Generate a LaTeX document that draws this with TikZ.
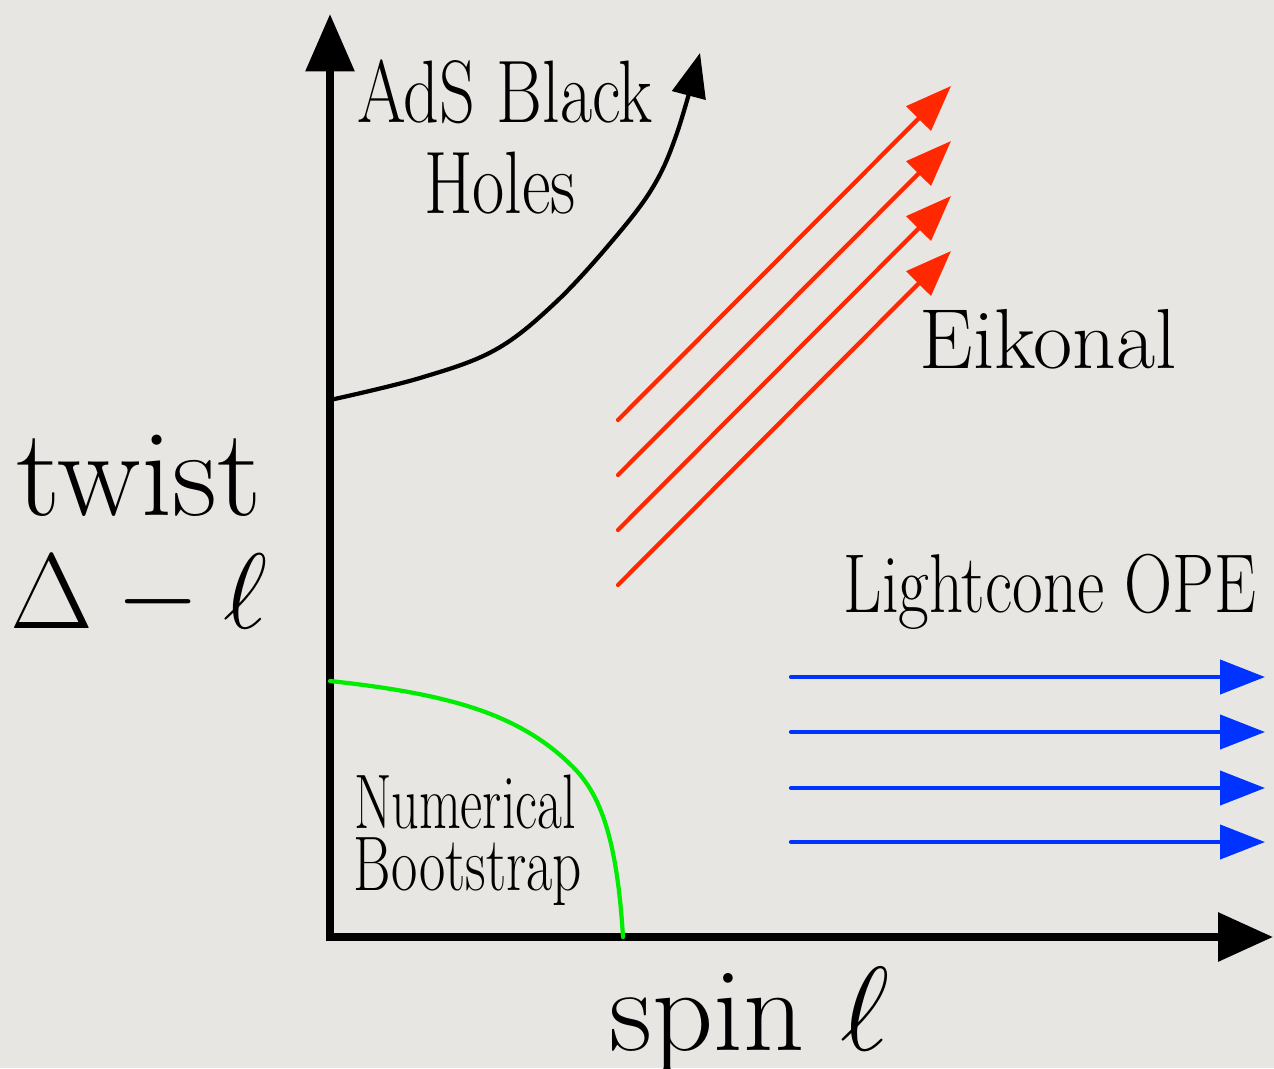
\documentclass[tikz,border=0pt]{standalone}
\usepackage{fix-cm}
\usepackage{fontspec}
\usetikzlibrary{arrows.meta}
\definecolor{bg}{RGB}{231,230,226}
\definecolor{myred}{RGB}{255,40,0}
\definecolor{myblue}{RGB}{0,51,255}
\definecolor{mygreen}{RGB}{0,236,0}
\tikzset{
  axisline/.style={line width=4.5pt, line join=miter, {Triangle[length=1.15cm,width=0.95cm]}-{Triangle[length=1.1cm,width=0.95cm]}},
  curveline/.style={line width=2.4pt, -{Triangle[length=0.88cm,width=0.68cm]}},
  redarrow/.style={myred, line width=2.4pt, line cap=round, -{Triangle[length=0.92cm,width=0.68cm]}},
  bluearrow/.style={myblue, line width=2.4pt, line cap=round, -{Triangle[length=0.9cm,width=0.68cm]}},
  greenline/.style={mygreen, line width=2.4pt, line cap=round},
  lab/.style={anchor=base, inner sep=0pt, outer sep=0pt, text=black}
}
\begin{document}
\begin{tikzpicture}[x=0.02cm, y=-0.02cm]
  \useasboundingbox[fill=bg] (0,0) rectangle (1274,1068);
  % axes
  \coordinate (O) at (330,937);
  \coordinate (ytop) at (330,14);
  \coordinate (xend) at (1273,937);
  \draw[axisline] (ytop) -- (O) -- (xend);
  % AdS black hole curve
  \draw[curveline] plot[smooth, tension=0.6] coordinates {(330,400) (420,378) (495,350) (555,303) (613,240) (653,187) (677,133) (700,53)};
  % numerical bootstrap curve
  \coordinate (gs) at (330,681);
  \coordinate (gm) at (573,767);
  \coordinate (ge) at (623,937);
  \draw[greenline] (gs) .. controls (450,694) and (520,714) .. (gm)
                        .. controls (601,795) and (617,840) .. (ge);
  % red eikonal arrows
  \foreach \i in {0,1,2,3}{
    \coordinate (rs\i) at (618,{420+55*\i});
    \coordinate (re\i) at (951,{86+55*\i});
    \draw[redarrow] (rs\i) -- (re\i);
  }
  % blue lightcone arrows
  \foreach \y [count=\i] in {677,732,788,842}{
    \coordinate (bs\i) at (791,\y);
    \coordinate (be\i) at (1265,\y);
    \draw[bluearrow] (bs\i) -- (be\i);
  }
  % labels
  \node[lab] (ads1) at (505,122) {\fontsize{50.5}{60}\selectfont\scalebox{0.79}[1]{AdS Black}};
  \node[lab] (ads2) at (500,213) {\fontsize{50.5}{60}\selectfont\scalebox{0.79}[1]{Holes}};
  \node[lab] (eik) at (1048,368) {\fontsize{48.5}{56}\selectfont Eikonal};
  \node[lab] (lc) at (1050,612) {\fontsize{47.5}{56}\selectfont\scalebox{0.8}[1]{Lightcone OPE}};
  \node[lab] (nb1) at (465,828) {\fontsize{44}{52}\selectfont\scalebox{0.7}[1]{Numerical}};
  \node[lab] (nb2) at (468,890) {\fontsize{44}{52}\selectfont\scalebox{0.74}[1]{Bootstrap}};
  \node[lab] (tw1) at (139,515) {\fontsize{71}{80}\selectfont twist};
  \node[lab] (tw2) at (139,628) {\fontsize{61}{70}\selectfont $\Delta-\ell$};
  \node[lab] (sp) at (750,1050) {\fontsize{68}{80}\selectfont spin $\ell$};
\end{tikzpicture}
\end{document}
